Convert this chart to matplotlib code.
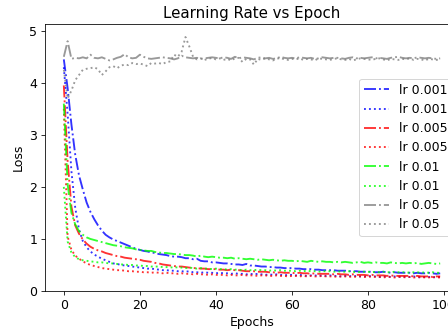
import numpy as np
import matplotlib
matplotlib.use('Agg')
import matplotlib.pyplot as plt

# epochs 0..99
epochs = np.arange(100)

# lr 0.001
loss_001_a = [4.45, 3.90, 3.20, 2.62, 2.22, 1.95, 1.70, 1.52, 1.38, 1.26,
              1.16, 1.08, 1.03, 0.99, 0.96, 0.93, 0.90, 0.87, 0.84, 0.81,
              0.79, 0.77, 0.76, 0.74, 0.73, 0.71, 0.70, 0.69, 0.67, 0.66,
              0.66, 0.65, 0.63, 0.63, 0.61, 0.62, 0.58, 0.57, 0.57, 0.55,
              0.55, 0.54, 0.53, 0.53, 0.52, 0.51, 0.51, 0.50, 0.52, 0.49,
              0.49, 0.48, 0.47, 0.47, 0.46, 0.46, 0.45, 0.45, 0.44, 0.44,
              0.44, 0.43, 0.43, 0.42, 0.42, 0.42, 0.41, 0.41, 0.40, 0.40,
              0.40, 0.40, 0.39, 0.39, 0.39, 0.38, 0.38, 0.38, 0.37, 0.37,
              0.37, 0.37, 0.36, 0.36, 0.37, 0.36, 0.35, 0.36, 0.35, 0.35,
              0.35, 0.35, 0.34, 0.35, 0.34, 0.34, 0.35, 0.34, 0.33, 0.34]
loss_001_b = [4.30, 3.40, 2.30, 1.60, 1.18, 0.96, 0.84, 0.76, 0.70, 0.66,
              0.62, 0.59, 0.56, 0.53, 0.52, 0.50, 0.49, 0.48, 0.47, 0.46,
              0.45, 0.44, 0.43, 0.43, 0.42, 0.41, 0.40, 0.40, 0.39, 0.39,
              0.38, 0.38, 0.37, 0.38, 0.36, 0.36, 0.35, 0.36, 0.35, 0.35,
              0.34, 0.35, 0.34, 0.34, 0.33, 0.34, 0.33, 0.33, 0.32, 0.33,
              0.32, 0.33, 0.32, 0.31, 0.32, 0.31, 0.32, 0.31, 0.30, 0.31,
              0.31, 0.30, 0.31, 0.30, 0.29, 0.30, 0.30, 0.29, 0.30, 0.29,
              0.30, 0.29, 0.29, 0.28, 0.29, 0.29, 0.28, 0.29, 0.28, 0.28,
              0.29, 0.28, 0.28, 0.27, 0.28, 0.28, 0.27, 0.28, 0.27, 0.28,
              0.27, 0.27, 0.28, 0.27, 0.26, 0.27, 0.27, 0.26, 0.27, 0.27]

# lr 0.005
loss_005_a = [3.95, 2.50, 1.62, 1.26, 1.10, 0.99, 0.91, 0.85, 0.81, 0.78,
              0.76, 0.73, 0.71, 0.69, 0.67, 0.66, 0.64, 0.63, 0.62, 0.61,
              0.60, 0.58, 0.57, 0.56, 0.54, 0.53, 0.51, 0.50, 0.49, 0.48,
              0.47, 0.47, 0.46, 0.45, 0.44, 0.44, 0.43, 0.43, 0.42, 0.42,
              0.42, 0.41, 0.41, 0.40, 0.41, 0.40, 0.40, 0.39, 0.38, 0.38,
              0.38, 0.37, 0.37, 0.37, 0.36, 0.36, 0.35, 0.36, 0.35, 0.35,
              0.35, 0.34, 0.35, 0.34, 0.34, 0.33, 0.34, 0.33, 0.33, 0.33,
              0.33, 0.32, 0.33, 0.32, 0.32, 0.31, 0.32, 0.31, 0.31, 0.31,
              0.30, 0.31, 0.30, 0.30, 0.30, 0.29, 0.30, 0.29, 0.29, 0.29,
              0.29, 0.29, 0.28, 0.29, 0.28, 0.28, 0.28, 0.27, 0.28, 0.28]
loss_005_b = [3.50, 1.05, 0.79, 0.68, 0.62, 0.57, 0.53, 0.50, 0.48, 0.46,
              0.44, 0.43, 0.42, 0.41, 0.40, 0.40, 0.39, 0.38, 0.38, 0.37,
              0.37, 0.36, 0.36, 0.35, 0.36, 0.35, 0.34, 0.35, 0.34, 0.34,
              0.33, 0.34, 0.33, 0.33, 0.32, 0.33, 0.32, 0.32, 0.31, 0.32,
              0.31, 0.31, 0.31, 0.30, 0.31, 0.30, 0.30, 0.31, 0.30, 0.30,
              0.30, 0.29, 0.30, 0.30, 0.29, 0.29, 0.30, 0.29, 0.29, 0.28,
              0.29, 0.29, 0.28, 0.29, 0.28, 0.29, 0.28, 0.28, 0.29, 0.28,
              0.28, 0.28, 0.27, 0.28, 0.28, 0.27, 0.28, 0.27, 0.28, 0.27,
              0.27, 0.28, 0.27, 0.27, 0.26, 0.27, 0.27, 0.26, 0.27, 0.27,
              0.26, 0.27, 0.26, 0.26, 0.27, 0.26, 0.26, 0.27, 0.26, 0.26]

# lr 0.01
loss_01_a = [3.60, 2.05, 1.50, 1.28, 1.15, 1.08, 1.03, 1.00, 0.98, 0.96,
             0.94, 0.92, 0.90, 0.88, 0.87, 0.86, 0.84, 0.83, 0.82, 0.80,
             0.79, 0.78, 0.77, 0.77, 0.75, 0.74, 0.73, 0.73, 0.72, 0.71,
             0.71, 0.70, 0.69, 0.69, 0.68, 0.66, 0.68, 0.66, 0.65, 0.66,
             0.65, 0.64, 0.64, 0.63, 0.64, 0.62, 0.63, 0.62, 0.61, 0.62,
             0.61, 0.60, 0.61, 0.60, 0.59, 0.60, 0.59, 0.58, 0.59, 0.58,
             0.58, 0.57, 0.58, 0.57, 0.56, 0.58, 0.57, 0.56, 0.57, 0.56,
             0.56, 0.55, 0.56, 0.55, 0.56, 0.55, 0.54, 0.55, 0.56, 0.54,
             0.55, 0.54, 0.55, 0.54, 0.54, 0.53, 0.55, 0.54, 0.53, 0.54,
             0.53, 0.54, 0.53, 0.54, 0.52, 0.53, 0.54, 0.53, 0.52, 0.53]
loss_01_b = [2.00, 0.95, 0.74, 0.65, 0.61, 0.59, 0.58, 0.57, 0.56, 0.55,
             0.55, 0.54, 0.53, 0.53, 0.52, 0.51, 0.51, 0.50, 0.50, 0.49,
             0.49, 0.48, 0.48, 0.47, 0.47, 0.47, 0.46, 0.46, 0.45, 0.46,
             0.45, 0.45, 0.44, 0.45, 0.44, 0.43, 0.44, 0.43, 0.43, 0.42,
             0.43, 0.42, 0.42, 0.41, 0.42, 0.41, 0.41, 0.40, 0.41, 0.40,
             0.40, 0.41, 0.40, 0.40, 0.39, 0.40, 0.39, 0.40, 0.39, 0.39,
             0.39, 0.38, 0.39, 0.38, 0.39, 0.38, 0.38, 0.37, 0.38, 0.38,
             0.38, 0.37, 0.38, 0.37, 0.37, 0.38, 0.37, 0.36, 0.37, 0.37,
             0.37, 0.36, 0.37, 0.36, 0.37, 0.36, 0.36, 0.37, 0.36, 0.36,
             0.36, 0.35, 0.36, 0.36, 0.35, 0.36, 0.35, 0.36, 0.35, 0.35]

# lr 0.05 (diverged)
loss_05_a = [4.50, 4.80, 4.46, 4.48, 4.47, 4.49, 4.47, 4.54, 4.48, 4.47,
             4.49, 4.46, 4.43, 4.45, 4.48, 4.50, 4.55, 4.49, 4.47, 4.48,
             4.54, 4.50, 4.47, 4.46, 4.47, 4.48, 4.49, 4.48, 4.47, 4.45,
             4.47, 4.52, 4.49, 4.48, 4.47, 4.48, 4.46, 4.47, 4.48, 4.49,
             4.48, 4.47, 4.49, 4.48, 4.46, 4.50, 4.47, 4.49, 4.48, 4.47,
             4.45, 4.48, 4.49, 4.47, 4.48, 4.46, 4.47, 4.50, 4.48, 4.47,
             4.48, 4.47, 4.49, 4.48, 4.47, 4.48, 4.46, 4.47, 4.49, 4.48,
             4.47, 4.48, 4.48, 4.47, 4.46, 4.48, 4.49, 4.47, 4.48, 4.47,
             4.48, 4.49, 4.47, 4.48, 4.47, 4.46, 4.48, 4.49, 4.50, 4.48,
             4.47, 4.48, 4.47, 4.49, 4.48, 4.47, 4.48, 4.47, 4.46, 4.47]
loss_05_b = [4.25, 3.70, 3.85, 4.05, 4.15, 4.25, 4.27, 4.28, 4.30, 4.26,
             4.15, 4.22, 4.30, 4.32, 4.28, 4.33, 4.35, 4.34, 4.38, 4.36,
             4.37, 4.35, 4.32, 4.38, 4.37, 4.38, 4.36, 4.40, 4.41, 4.54,
             4.50, 4.60, 4.88, 4.70, 4.50, 4.45, 4.47, 4.44, 4.46, 4.48,
             4.45, 4.47, 4.44, 4.46, 4.43, 4.47, 4.48, 4.40, 4.46, 4.45,
             4.35, 4.46, 4.44, 4.47, 4.45, 4.43, 4.46, 4.48, 4.45, 4.44,
             4.46, 4.45, 4.47, 4.44, 4.46, 4.45, 4.43, 4.47, 4.46, 4.45,
             4.44, 4.46, 4.47, 4.45, 4.44, 4.46, 4.43, 4.45, 4.47, 4.46,
             4.45, 4.44, 4.46, 4.47, 4.45, 4.43, 4.46, 4.45, 4.44, 4.46,
             4.45, 4.47, 4.44, 4.46, 4.45, 4.43, 4.46, 4.45, 4.44, 4.45]

series = [
    (loss_001_a, 'blue', '-.', 'lr 0.001'),
    (loss_001_b, 'blue', ':', 'lr 0.001'),
    (loss_005_a, 'red', '-.', 'lr 0.005'),
    (loss_005_b, 'red', ':', 'lr 0.005'),
    (loss_01_a, 'lime', '-.', 'lr 0.01'),
    (loss_01_b, 'lime', ':', 'lr 0.01'),
    (loss_05_a, 'grey', '-.', 'lr 0.05'),
    (loss_05_b, 'grey', ':', 'lr 0.05'),
]

# original looks like a ~90 dpi render, so scale text/lines up a bit
scale = 1.25
plt.rcParams['font.size'] = 10 * scale
plt.rcParams['lines.linewidth'] = 1.5 * scale
plt.rcParams['xtick.major.size'] = 3.5 * scale
plt.rcParams['ytick.major.size'] = 3.5 * scale

fig = plt.figure(figsize=(448 / 72, 330 / 72), dpi=72)
# axes runs past the right edge, like the cropped original
ax = fig.add_axes([45 / 448, 39 / 330, 414 / 448, 267 / 330])

for vals, col, ls, lab in series:
    ax.plot(epochs, vals, color=col, linestyle=ls, alpha=0.8, label=lab)

ax.set_ylim(0, 5.13)
ax.set_title('Learning Rate vs Epoch')
ax.set_xlabel('Epochs')
ax.set_ylabel('Loss')
ax.legend(loc='center right')

fig.savefig('out.png', dpi=72)
